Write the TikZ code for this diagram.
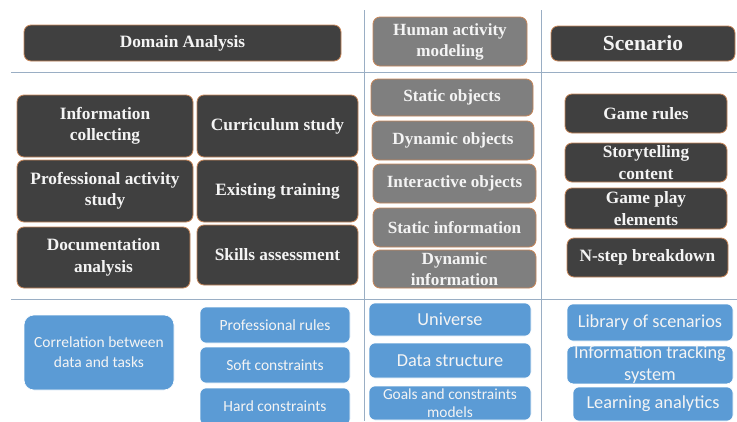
\documentclass[tikz,border=0pt]{standalone}
\usepackage{fontspec}
\setmainfont{Liberation Serif}
\newfontfamily\blfont{Carlito}
\definecolor{darkbox}{HTML}{404040}
\definecolor{graybox}{HTML}{7F7F7F}
\definecolor{bluebox}{HTML}{5B9BD5}
\definecolor{edgeor}{HTML}{C8875A}
\definecolor{sepline}{HTML}{9AAEC4}
\definecolor{txtw}{HTML}{F4F4F4}
\tikzset{
  base/.style={rounded corners=7pt, align=center, inner sep=0pt, text=txtw},
  dbox/.style={base, fill=darkbox, draw=edgeor, line width=0.8pt, font=\fontsize{17.3}{21.5}\selectfont\bfseries},
  gbox/.style={base, fill=graybox, draw=edgeor, line width=0.8pt, font=\fontsize{17.1}{21}\selectfont\bfseries},
  bbox/.style={base, rounded corners=6pt, fill=bluebox, draw=white, line width=0.6pt, font=\blfont\fontsize{15.5}{20}\selectfont},
  rbox/.style={bbox, font=\blfont\fontsize{18.3}{22}\selectfont},
  sbox/.style={bbox, font=\blfont\fontsize{15.4}{17.5}\selectfont},
  sep/.style={draw=sepline, line width=0.9pt},
}
\begin{document}
\begin{tikzpicture}[x=1pt,y=-1pt]
\useasboundingbox (0,0) rectangle (737,421);
\clip (0,0) rectangle (737,421);
\fill[white] (0,0) rectangle (737,421);
% separator lines
\coordinate (h1a) at (11,72); \coordinate (h1b) at (737,72);
\coordinate (h2a) at (11,299); \coordinate (h2b) at (737,299);
\coordinate (v1a) at (364,10); \coordinate (v1b) at (364,421);
\coordinate (v2a) at (541,10); \coordinate (v2b) at (541,421);
\draw[sep] (h1a) -- (h1b);
\draw[sep] (h2a) -- (h2b);
\draw[sep] (v1a) -- (v1b);
\draw[sep] (v2a) -- (v2b);
% headers
\node[dbox, minimum width=317, minimum height=36] (dom) at (182.5,43) {Domain Analysis};
\node[gbox, minimum width=154, minimum height=49] (ham) at (450,41.5) {Human activity\\modeling};
\node[dbox, minimum width=184, minimum height=35, font=\fontsize{21.5}{24}\selectfont\bfseries] (scn) at (643,43.5) {Scenario};
% left column
\node[dbox, minimum width=176, minimum height=62] (info) at (105,126) {Information\\collecting};
\node[dbox, minimum width=161, minimum height=62] (curr) at (277.5,126) {Curriculum study};
\node[dbox, minimum width=176, minimum height=62] (prof) at (105,191) {Professional activity\\study};
\node[dbox, minimum width=161, minimum height=62] (exist) at (277.5,191) {Existing training};
\node[dbox, minimum width=173, minimum height=61] (doc) at (103.5,257.5) {Documentation\\analysis};
\node[dbox, minimum width=161, minimum height=60] (skill) at (277.5,255) {Skills assessment};
% middle column
\node[gbox, minimum width=162, minimum height=37] (sobj) at (452,97.5) {Static objects};
\node[gbox, minimum width=162, minimum height=39] (dobj) at (453,140.5) {Dynamic objects};
\node[gbox, minimum width=163, minimum height=39] (iobj) at (454.5,183.5) {Interactive objects};
\node[gbox, minimum width=163, minimum height=39] (sinf) at (454.5,227.5) {Static information};
\node[gbox, minimum width=163, minimum height=38] (dinf) at (454.5,269) {Dynamic\\information};
% right column
\node[dbox, minimum width=162, minimum height=39] (grul) at (646,113.5) {Game rules};
\node[dbox, minimum width=162, minimum height=39] (story) at (646,162.5) {Storytelling\\content};
\node[dbox, minimum width=162, minimum height=41] (gplay) at (646,208.5) {Game play\\elements};
\node[dbox, minimum width=161, minimum height=39] (nstep) at (647.5,257.5) {N-step breakdown};
% bottom row
\node[bbox, rounded corners=10pt, minimum width=150, minimum height=75] (corr) at (99,352.5) {Correlation between\\data and tasks};
\node[bbox, minimum width=150, minimum height=36] (prul) at (275,325) {Professional rules};
\node[bbox, minimum width=150, minimum height=36] (soft) at (275,365) {Soft constraints};
\node[bbox, minimum width=150, minimum height=37] (hard) at (275,406.5) {Hard constraints};
\node[rbox, minimum width=162, minimum height=33] (univ) at (450,319.5) {Universe};
\node[rbox, minimum width=162, minimum height=35] (dstr) at (450,360.5) {Data structure};
\node[sbox, minimum width=162, minimum height=34] (goal) at (450,403) {Goals and constraints\\models};
\node[rbox, minimum width=166, minimum height=37] (lib) at (650,322.5) {Library of scenarios};
\node[rbox, minimum width=166, minimum height=36] (itrk) at (650,365) {Information tracking\\system};
\node[rbox, minimum width=160, minimum height=34] (learn) at (653,404) {Learning analytics};
\end{tikzpicture}
\end{document}
